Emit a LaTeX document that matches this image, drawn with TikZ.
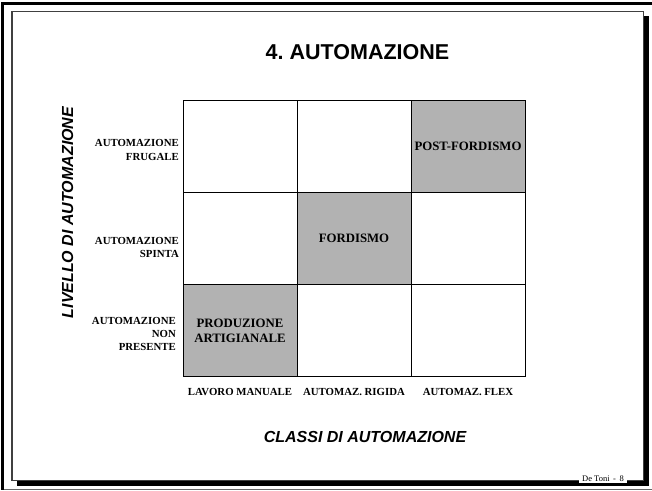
\documentclass[tikz,border=0pt]{standalone}
\usepackage{fontspec}
\setmainfont{Liberation Serif}
\newfontfamily\arialfont{Liberation Sans}
\usepackage{tikz}
\usetikzlibrary{positioning}
\frenchspacing
\definecolor{cellgray}{HTML}{B2B2B2}
\tikzset{
    cell/.style = {rectangle, draw = black, line width = 0.9pt, outer sep = 0pt, inner sep = 0pt, minimum width = 114pt, minimum height = 92pt, align = center, font = \fontsize{12.8}{15}\selectfont\bfseries},
    filled/.style = {cell, fill = cellgray},
    rowlabel/.style = {anchor = east, align = right, inner sep = 0pt, font = \fontsize{10.8}{13.4}\selectfont\bfseries},
    collabel/.style = {inner sep = 0pt, font = \fontsize{10.8}{13}\selectfont\bfseries},
    axis/.style = {inner sep = 0pt, font = \arialfont\fontsize{16}{18}\selectfont\bfseries\itshape},
    heading/.style = {inner sep = 0pt, font = \arialfont\fontsize{21.5}{24}\selectfont\bfseries},
    footer/.style = {fill = white, inner xsep = 3pt, inner ysep = 1.5pt, font = \fontsize{8.5}{10}\selectfont}
}

\begin{document}
\begin{tikzpicture}[x = 1pt, y = -1pt]
    \useasboundingbox (0,0) rectangle (652,490);
    \fill[white] (0,0) rectangle (652,490);
    \fill[black] (1,2) rectangle (4,490);
    \fill[black] (1,2) rectangle (652,4.5);
    \draw[black!60, line width = 0.6pt] (4,489) -- (652,489);
    \draw[black!75, line width = 1.2pt] (12,11.5) rectangle (643.5,480.5);
    \fill[black] (644,16) rectangle (649,486);
    \fill[black] (17,481) rectangle (649,486);
    \node [footer] (foot) at (603,478.5) {De Toni \,-\, 8};

    \node [heading] (title) at (357.5,52) {4. AUTOMAZIONE};

    \node [cell] (c11) at (240,146.5) {};
    \node [cell, right = 0pt of c11] (c12) {};
    \node [filled, right = 0pt of c12] (c13) {POST-FORDISMO};
    \node [cell, below = 0pt of c11] (c21) {};
    \node [filled, right = 0pt of c21] (c22) {FORDISMO};
    \node [cell, right = 0pt of c22] (c23) {};
    \node [filled, below = 0pt of c21] (c31) {PRODUZIONE\\ARTIGIANALE};
    \node [cell, right = 0pt of c31] (c32) {};
    \node [cell, right = 0pt of c32] (c33) {};

    \node [rowlabel] (r1) at (179,150) {AUTOMAZIONE\\FRUGALE};
    \node [rowlabel] (r2) at (179,247.5) {AUTOMAZIONE\\SPINTA};
    \node [rowlabel] (r3) at (176,334) {AUTOMAZIONE\\NON\\PRESENTE};

    \node [collabel, below = 12pt of c31] (k1) {LAVORO MANUALE};
    \node [collabel, below = 12pt of c32] (k2) {AUTOMAZ. RIGIDA};
    \node [collabel, below = 12pt of c33] (k3) {AUTOMAZ. FLEX};

    \node [axis, rotate = 90] (yaxis) at (67.5,212.5) {LIVELLO DI AUTOMAZIONE};
    \node [axis] (xaxis) at (365,437) {CLASSI DI AUTOMAZIONE};
\end{tikzpicture}
\end{document}
